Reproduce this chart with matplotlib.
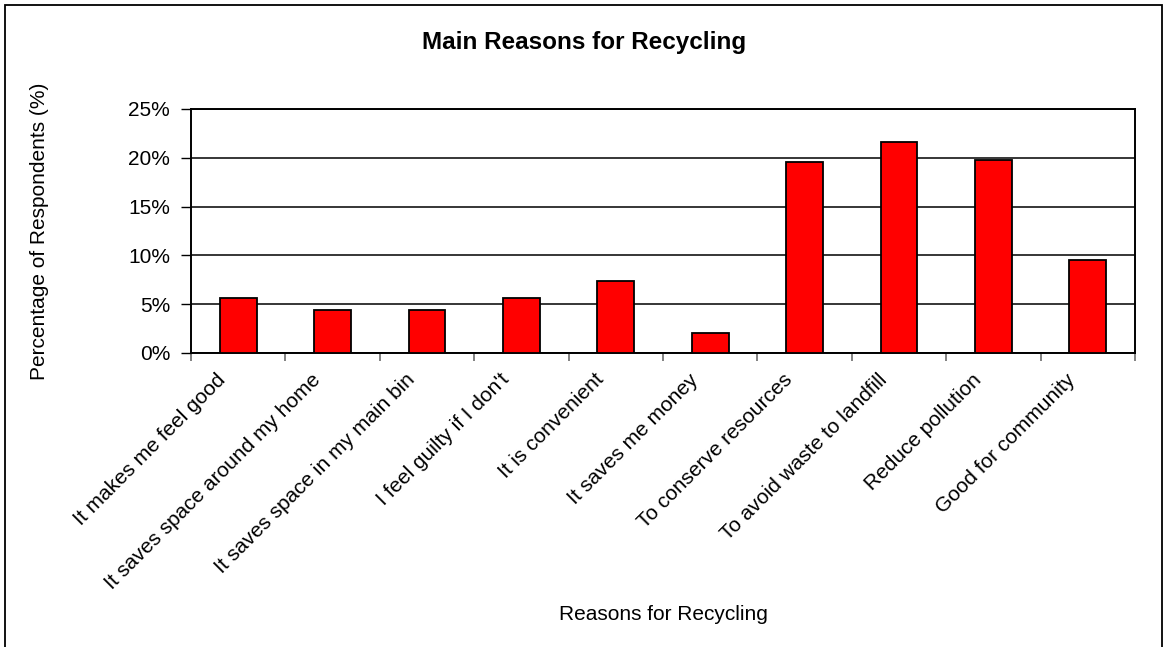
import matplotlib
matplotlib.use("Agg")
import matplotlib.pyplot as plt
from matplotlib.patches import Rectangle
from matplotlib.transforms import ScaledTranslation, blended_transform_factory
from matplotlib.ticker import FixedLocator, PercentFormatter

plt.rcParams['font.family'] = ['Liberation Sans', 'DejaVu Sans']

reasons = [
    "It makes me feel good",
    "It saves space around my home",
    "It saves space in my main bin",
    "I feel guilty if I don't",
    "It is convenient",
    "It saves me money",
    "To conserve resources",
    "To avoid waste to landfill",
    "Reduce pollution",
    "Good for community",
]
share_pct = [5.6, 4.4, 4.4, 5.6, 7.4, 2.1, 19.6, 21.6, 19.8, 9.5]
y_ticks = [0, 5, 10, 15, 20, 25]

W, H, DPI = 1168, 647, 100
fig = plt.figure(figsize=(W / DPI, H / DPI), dpi=DPI)

# outer chart frame
fig.patches.append(Rectangle((5 / W, -0.01), (1162 - 5) / W, 1 - 5 / H + 0.01,
                             transform=fig.transFigure, fill=False,
                             edgecolor='black', linewidth=1.3))

ax = fig.add_axes([191 / W, 1 - 353 / H, (1135 - 191) / W, (353 - 109) / H])

x = list(range(len(reasons)))
ax.bar(x, share_pct, width=0.39, color='#ff0000', edgecolor='black',
       linewidth=1.3, zorder=3)

ax.set_xlim(-0.5, len(reasons) - 0.5)
ax.set_ylim(0, 25)

ax.yaxis.set_major_locator(FixedLocator(y_ticks))
ax.yaxis.set_major_formatter(PercentFormatter(decimals=0))
ax.grid(axis='y', color='black', linewidth=1.1, zorder=0)
ax.tick_params(axis='y', length=7, width=1, color='black', labelsize=15, pad=8)

# tick marks between categories, labels drawn separately
ax.set_xticks([i - 0.5 for i in range(len(reasons) + 1)])
ax.set_xticklabels([])
ax.tick_params(axis='x', length=6, width=1.3, color='#777777')

for s in ax.spines.values():
    s.set_color('black')
    s.set_linewidth(1.4)

trans = blended_transform_factory(ax.transData, ax.transAxes) + \
    ScaledTranslation(-22 / DPI, -17 / DPI, fig.dpi_scale_trans)
for i, lab in enumerate(reasons):
    ax.text(i, 0, lab, transform=trans, rotation=45, rotation_mode='anchor',
            ha='right', va='top', fontsize=15)

fig.text(40 / W, 1 - 231 / H, "Percentage of Respondents (%)", rotation=90,
         ha='center', va='center', fontsize=15)
fig.text(663 / W, 1 - 615 / H, "Reasons for Recycling",
         ha='center', va='center', fontsize=15)
fig.text(584 / W, 1 - 49 / H, "Main Reasons for Recycling",
         ha='center', va='baseline', fontsize=17.5, fontweight='bold')

fig.savefig("out.png", dpi=DPI)
